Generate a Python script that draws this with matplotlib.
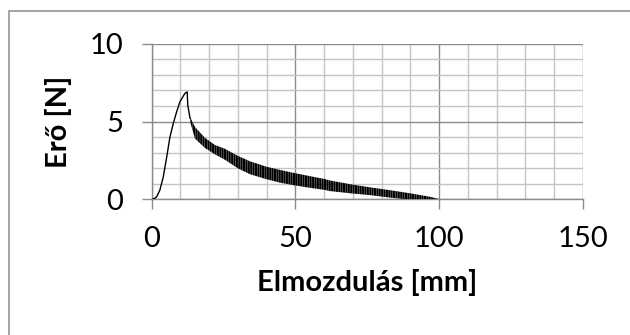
import matplotlib
matplotlib.use("Agg")
import matplotlib.pyplot as plt
from matplotlib.patches import Rectangle

# force - displacement curve
rise_x = [0, 1.2, 1.8, 2.9, 4.1, 5.3, 6.4, 7.6, 8.7, 9.9, 11.6, 12.4, 12.6, 13.4]
rise_y = [0, 0.08, 0.18, 0.6, 1.46, 2.74, 4.0, 4.9, 5.6, 6.27, 6.8, 6.9, 6.06, 5.2]

# oscillating part: upper and lower envelope of the teeth
env_x = [13.4, 15.1, 18.6, 22, 25.5, 30, 34.2, 40, 44.6, 49, 55, 60, 62, 70, 76, 82.8, 89.8, 96.7, 100.2]
env_top = [5.3, 4.65, 3.95, 3.5, 3.25, 2.8, 2.45, 2.1, 1.9, 1.72, 1.5, 1.32, 1.22, 0.95, 0.78, 0.6, 0.4, 0.18, 0.02]
env_bot = [5.0, 3.9, 3.3, 2.9, 2.55, 2.0, 1.62, 1.3, 1.08, 0.93, 0.75, 0.62, 0.54, 0.38, 0.28, 0.12, 0.0, -0.07, -0.09]

tail_x = [100.2, 103, 107.3]
tail_y = [-0.08, -0.1, -0.1]

x_ticks = [0, 50, 100, 150]
y_ticks = [0, 5, 10]

plt.rcParams["font.family"] = ["Lato", "DejaVu Sans"]
plt.rcParams["hatch.linewidth"] = 1.5
plt.rcParams["hatch.color"] = "black"

major_c = "#8c8c8c"
minor_c = "#c4c4c4"

fig = plt.figure(figsize=(6.3, 3.35), dpi=100)
ax = fig.add_axes([0.2405, 0.4045, 0.6849, 0.4656])

# outer chart frame
fig.patches.append(Rectangle((9 / 630, -0.1), 1.0, 1.1 - 11 / 335, transform=fig.transFigure,
                             fill=False, edgecolor=major_c, linewidth=1.1))

ax.plot(rise_x, rise_y, color="black", linewidth=1.0, zorder=3)
ax.fill_between(env_x, env_bot, env_top, facecolor="none", edgecolor="black",
                linewidth=0, hatch="|||||||", zorder=3)
ax.plot(tail_x, tail_y, color="black", linewidth=1.0, zorder=3)

ax.set_xlim(0, 150)
ax.set_ylim(0, 10)
ax.set_xticks(x_ticks)
ax.set_yticks(y_ticks)
ax.set_xticks(range(0, 151, 10), minor=True)
ax.set_yticks(range(0, 11, 1), minor=True)

ax.grid(which="minor", color=minor_c, linewidth=1.0)
ax.grid(which="major", color=major_c, linewidth=1.0)
ax.set_axisbelow(True)

for s in ax.spines.values():
    s.set_color(major_c)
    s.set_linewidth(1.0)
ax.spines["top"].set_visible(False)
ax.spines["right"].set_visible(False)

ax.tick_params(which="major", length=7.2, width=1.0, color=major_c, labelsize=21, pad=12)
ax.tick_params(which="minor", length=0)
ax.tick_params(axis="y", pad=13)

ax.set_xlabel("Elmozdulás [mm]", fontsize=21, fontweight="bold", labelpad=12)
ax.set_ylabel("Erő [N]", fontsize=21, fontweight="bold", labelpad=13)

fig.savefig("out.png", dpi=100)
